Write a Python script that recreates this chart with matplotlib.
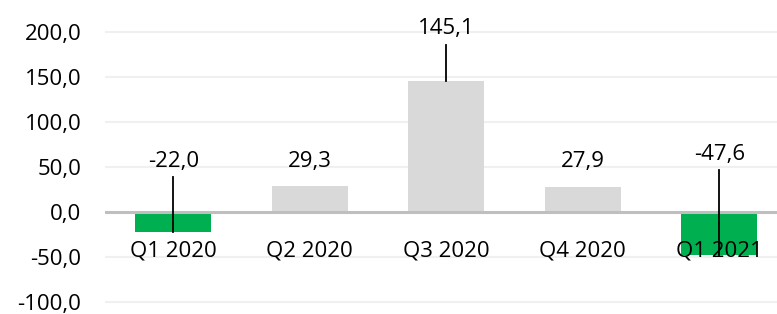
import matplotlib.pyplot as plt

quarters = ['Q1 2020', 'Q2 2020', 'Q3 2020', 'Q4 2020', 'Q1 2021']
values = [-22.0, 29.3, 145.1, 27.9, -47.6]

# baseline of each data label as Excel left it (data units), and leader line tops
label_y = [50.0, 50.0, 197.8, 50.0, 57.8]
leader_top = [39.0, None, 185.5, None, 46.7]

plt.rcParams['font.family'] = ['Open Sans', 'DejaVu Sans']

fig = plt.figure(figsize=(7.77, 3.14), dpi=100)
ax = fig.add_axes([105 / 777, 0.0, 672 / 777, 1.0])

ax.set_ylim(-113.3, 235.6)
ax.set_xlim(-0.5, -0.5 + 672 / 136.5)

colors = ['#00B050' if v < 0 else '#D9D9D9' for v in values]
x = list(range(len(values)))
ax.bar(x, values, width=0.557, color=colors, zorder=2)

for t in range(-100, 201, 50):
    if t == 0:
        continue
    ax.axhline(t, color='#F0F0F0', lw=1.5, zorder=1)
ax.axhline(0, color='#BFBFBF', lw=2.2, zorder=3)

for i, v in enumerate(values):
    txt = f'{v:.1f}'.replace('.', ',')
    ax.text(i, label_y[i], txt, ha='center', va='baseline', fontsize=16, color='#000000', zorder=5)
    if leader_top[i] is not None:
        ax.plot([i, i], [leader_top[i], v], color='#000000', lw=1.3, zorder=4)
    ax.text(i, -49.0, quarters[i], ha='center', va='baseline', fontsize=16, color='#000000', zorder=5)

ax.set_yticks(range(-100, 201, 50))
ax.set_yticklabels([f'{t:.1f}'.replace('.', ',') for t in range(-100, 201, 50)], fontsize=16)
ax.tick_params(axis='y', length=0, pad=17)
ax.set_xticks([])
for s in ax.spines.values():
    s.set_visible(False)

fig.savefig('out.png', dpi=100)
